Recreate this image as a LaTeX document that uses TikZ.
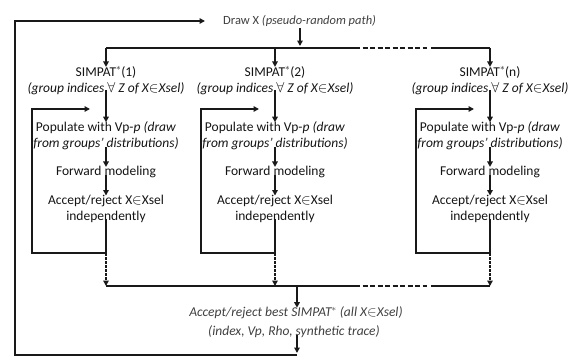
\documentclass[tikz,border=0pt]{standalone}
\usepackage{fontspec}
\setmainfont{Carlito}
\usetikzlibrary{arrows.meta}
\begin{document}
\begin{tikzpicture}[x=1pt,y=-1pt,
  ln/.style={line width=1.5pt, draw=black!90},
  arr/.style={ln, -{Triangle[length=5.5pt,width=5.5pt]}},
  dln/.style={ln, dash pattern=on 5pt off 2.5pt},
  vdash/.style={ln, dash pattern=on 2.5pt off 1.5pt, -{Triangle[length=5.5pt,width=5.5pt]}},
  txt/.style={inner sep=0pt, font=\fontsize{13.5}{16}\selectfont, text=black!92, align=center},
  itx/.style={txt, font=\fontsize{13.5}{16}\selectfont\itshape},
  ]
\useasboundingbox (0,0) rectangle (573,356);
% top
\node[txt, text=black!75, anchor=west, font=\fontsize{12.5}{15}\selectfont] (drawx) at (223,21) {Draw X \textit{(pseudo-random path)}};
\coordinate (dxin) at (205,21);
\coordinate (tb1) at (106,48);
\coordinate (tb2) at (275,48);
\coordinate (tb3) at (490,48);
\coordinate (tbd1) at (355,48);
\coordinate (tbd2) at (427,48);
\coordinate (tbd3) at (431,48);
\coordinate (tbm) at (300,46);
\draw[arr] (300,28) -- (tbm);
\draw[ln] (tb1) -- (tbd1);
\draw[dln] (tbd1) -- (tbd2);
\draw[ln] (tbd3) -- (tb3);
% columns
\foreach \i/\x/\lab in {1/106/1, 2/275/2, 3/490/n}{
  \node[txt] (s\i) at (\x,72) {SIMPAT$^{*}$(\lab)};
  \node[itx] (g\i) at (\x,89) {(group indices $\forall$ Z of X$\in$Xsel)};
  \node[txt] (p\i) at (\x,135.5) {Populate with Vp-\textit{p} \textit{(draw}\\\textit{from groups' distributions)}};
  \node[txt] (f\i) at (\x,172) {Forward modeling};
  \node[txt] (a\i) at (\x,208.5) {Accept/reject X$\in$Xsel\\independently};
  \coordinate (lb\i) at (\x,253);
  \coordinate (ll\i) at (\x-74,253);
  \coordinate (lt\i) at (\x-74,109);
  \coordinate (le\i) at (\x-16,109);
  \coordinate (bb\i) at (\x,286);
  \draw[arr] (tb\i) -- ([yshift=-1pt]s\i.north);
  \draw[arr] ([yshift=5pt]g\i.south) -- ([yshift=-1pt]p\i.north);
  \draw[arr] ([yshift=3pt]p\i.south) -- ([yshift=-1pt]f\i.north);
  \draw[arr] ([yshift=3pt]f\i.south) -- ([yshift=-1pt]a\i.north);
  \draw[ln] ([yshift=3pt]a\i.south) -- (lb\i);
  \draw[arr] (lb\i) -- (ll\i) -- (lt\i) -- (le\i);
  \draw[vdash] (lb\i) -- (bb\i);
}
% bottom bus
\coordinate (bbd1) at (355,286);
\coordinate (bbd2) at (427,286);
\coordinate (bbd3) at (431,286);
\draw[ln] (bb1) -- (bbd1);
\draw[dln] (bbd1) -- (bbd2);
\draw[ln] (bbd3) -- (bb3);
\coordinate (bm) at (297,286);
\node[itx, text=black!75] (b1) at (296,313) {Accept/reject best SIMPAT$^{*}$ (all X$\in$Xsel)};
\node[itx, text=black!75] (b2) at (294,332) {(index, Vp, Rho, synthetic trace)};
\draw[arr] (bm) -- ([yshift=-1pt]b1.north -| bm);
\coordinate (bend) at (297,353);
\draw[arr] ([yshift=3pt]b2.south -| bm) -- (bend);
% outer loop
\coordinate (o1) at (297,355);
\coordinate (o2) at (15,355);
\coordinate (o3) at (15,21);
\draw[arr] (o1) -- (o2) -- (o3) -- (dxin);
\end{tikzpicture}
\end{document}
